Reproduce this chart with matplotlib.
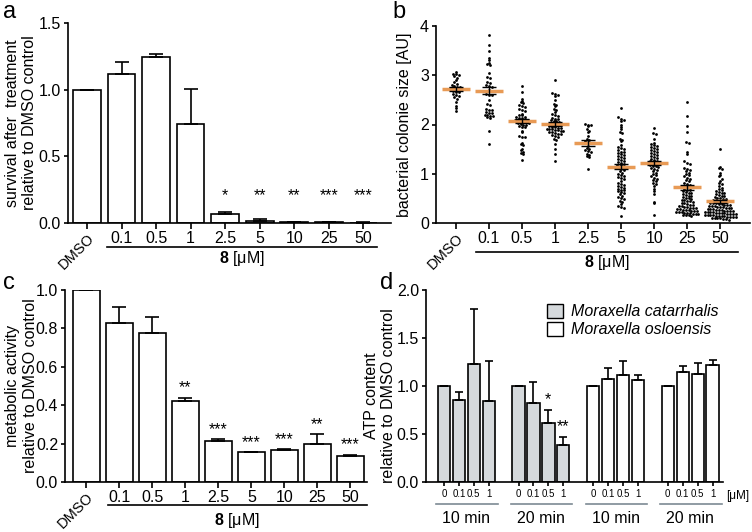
import numpy as np
import matplotlib
matplotlib.use('Agg')
import matplotlib.pyplot as plt
from matplotlib.patches import Patch
import matplotlib.transforms as mtransforms

plt.rcParams['font.family'] = ['Liberation Sans', 'DejaVu Sans']
plt.rcParams['mathtext.fontset'] = 'custom'
plt.rcParams['mathtext.rm'] = 'Liberation Sans'
plt.rcParams['mathtext.bf'] = 'Liberation Sans:bold'

# ---- data ----
conc_labels = ['DMSO', '0.1', '0.5', '1', '2.5', '5', '10', '25', '50']

# a: survival
surv = [1.0, 1.12, 1.245, 0.74, 0.065, 0.018, 0.006, 0.004, 0.003]
surv_err = [0.0, 0.09, 0.025, 0.265, 0.02, 0.012, 0.002, 0.001, 0.001]
surv_stars = ['', '', '', '', '*', '**', '**', '***', '***']

# b: colony size per condition
dmso_b = [3.07, 3.03, 3.02, 3.00, 2.98, 2.95, 2.90, 2.86, 2.82, 2.80, 2.78, 2.77, 2.76, 2.75, 2.74,
          2.72, 2.71, 2.70, 2.68, 2.66, 2.65, 2.62, 2.60, 2.58, 2.56, 2.52, 2.45, 2.38, 2.33, 2.27]
c01_b = [3.82, 3.62, 3.50, 3.36, 3.31, 3.25, 3.23, 3.21, 3.05, 2.96, 2.94, 2.86, 2.84, 2.80, 2.79,
         2.77, 2.70, 2.62, 2.60, 2.59, 2.50, 2.42, 2.40, 2.32, 2.30, 2.29, 2.25, 2.24, 2.23, 2.20,
         2.19, 2.18, 2.17, 2.15, 2.14, 1.86, 1.60]
c05_b = [2.78, 2.66, 2.52, 2.47, 2.45, 2.43, 2.39, 2.38, 2.36, 2.31, 2.30, 2.28, 2.22, 2.20, 2.19,
         2.16, 2.15, 2.14, 2.13, 2.11, 2.10, 2.09, 2.08, 2.06, 2.05, 2.05, 2.04, 2.03, 2.01, 2.00,
         1.99, 1.96, 1.95, 1.94, 1.86, 1.84, 1.76, 1.75, 1.74, 1.62, 1.60, 1.58, 1.50, 1.48, 1.45,
         1.43, 1.41, 1.27]
c1_b = [2.90, 2.63, 2.61, 2.59, 2.57, 2.50, 2.42, 2.40, 2.38, 2.31, 2.29, 2.25, 2.21, 2.20, 2.18,
        2.13, 2.12, 2.11, 2.09, 2.08, 2.07, 2.06, 2.02, 2.01, 2.00, 1.99, 1.98, 1.96, 1.95, 1.94,
        1.93, 1.92, 1.91, 1.90, 1.90, 1.89, 1.88, 1.87, 1.86, 1.85, 1.84, 1.83, 1.81, 1.80, 1.79,
        1.76, 1.74, 1.71, 1.69, 1.60, 1.50, 1.40, 1.25]
c25_b = [2.02, 2.00, 1.98, 1.96, 1.90, 1.86, 1.84, 1.76, 1.71, 1.69, 1.66, 1.65, 1.63, 1.56, 1.52,
         1.50, 1.48, 1.46, 1.44, 1.41, 1.39, 1.36, 1.34, 1.10]
c5_b = [2.33, 2.15, 2.12, 2.10, 2.08, 1.98, 1.95, 1.90, 1.85, 1.82, 1.70, 1.68, 1.66, 1.58, 1.55,
        1.52, 1.50, 1.48, 1.45, 1.44, 1.42, 1.40, 1.38, 1.36, 1.35, 1.32, 1.30, 1.28, 1.26, 1.24,
        1.22, 1.20, 1.18, 1.16, 1.15, 1.14, 1.12, 1.10, 1.08, 1.06, 1.02, 1.00, 0.98, 0.96, 0.94,
        0.92, 0.90, 0.86, 0.82, 0.80, 0.78, 0.76, 0.74, 0.72, 0.70, 0.68, 0.66, 0.64, 0.62, 0.60,
        0.58, 0.55, 0.52, 0.50, 0.48, 0.45, 0.42, 0.38, 0.35, 0.32, 0.30, 0.15]
c10_b = [1.93, 1.82, 1.80, 1.70, 1.62, 1.60, 1.58, 1.56, 1.54, 1.52, 1.50, 1.48, 1.46, 1.44, 1.42,
         1.40, 1.38, 1.36, 1.34, 1.32, 1.30, 1.28, 1.26, 1.25, 1.24, 1.22, 1.20, 1.18, 1.16, 1.15,
         1.14, 1.12, 1.10, 1.08, 1.05, 1.02, 1.00, 0.98, 0.95, 0.92, 0.90, 0.88, 0.85, 0.82, 0.80,
         0.75, 0.70, 0.65, 0.58, 0.42, 0.40, 0.17]
c25x_b = [2.45, 2.18, 1.97, 1.85, 1.65, 1.62, 1.45, 1.40, 1.25, 1.22, 1.20, 1.12, 1.10, 1.08, 1.05,
          1.02, 1.00, 0.98, 0.95, 0.92, 0.90, 0.88, 0.85, 0.82, 0.80, 0.78, 0.76, 0.74, 0.72, 0.70,
          0.68, 0.66, 0.64, 0.62, 0.60, 0.60, 0.58, 0.56, 0.55, 0.54, 0.52, 0.50, 0.50, 0.48, 0.47,
          0.46, 0.45, 0.44, 0.42, 0.40, 0.40, 0.38, 0.37, 0.36, 0.35, 0.34, 0.33, 0.32, 0.31, 0.30,
          0.30, 0.29, 0.28, 0.27, 0.27, 0.26, 0.25, 0.25, 0.24, 0.23, 0.22, 0.22, 0.21, 0.20, 0.20,
          0.19, 0.18, 0.18, 0.17, 0.16, 0.16, 0.15]
c50_b = [1.50, 1.14, 1.12, 1.10, 1.02, 0.98, 0.95, 0.90, 0.85, 0.82, 0.80, 0.75, 0.72, 0.70, 0.66,
         0.64, 0.62, 0.60, 0.60, 0.58, 0.57, 0.55, 0.54, 0.52, 0.50, 0.50, 0.49, 0.48, 0.47, 0.46,
         0.45, 0.44, 0.43, 0.42, 0.41, 0.40, 0.40, 0.39, 0.38, 0.37, 0.36, 0.36, 0.35, 0.34, 0.34,
         0.33, 0.32, 0.32, 0.31, 0.30, 0.30, 0.29, 0.28, 0.28, 0.27, 0.27, 0.26, 0.25, 0.25, 0.24,
         0.24, 0.23, 0.23, 0.22, 0.22, 0.21, 0.21, 0.20, 0.20, 0.19, 0.19, 0.18, 0.18, 0.17, 0.17,
         0.16, 0.16, 0.15, 0.15, 0.14, 0.14, 0.13, 0.13, 0.12, 0.12, 0.11, 0.11, 0.10, 0.10, 0.09,
         0.08, 0.07]
size_groups = [dmso_b, c01_b, c05_b, c1_b, c25_b, c5_b, c10_b, c25x_b, c50_b]
size_mean = [2.72, 2.69, 2.07, 2.01, 1.63, 1.14, 1.21, 0.73, 0.44]
size_sem = [0.04, 0.08, 0.04, 0.04, 0.06, 0.05, 0.04, 0.05, 0.03]

# c: metabolic activity
metab = [1.0, 0.83, 0.775, 0.42, 0.213, 0.155, 0.165, 0.20, 0.133]
metab_err = [0.0, 0.08, 0.085, 0.02, 0.012, 0.002, 0.007, 0.05, 0.01]
metab_stars = ['', '', '', '**', '***', '***', '***', '**', '***']

# d: ATP content
atp_doses = ['0', '0.1', '0.5', '1']
atp_times = ['10 min', '20 min', '10 min', '20 min']
atp_cat_10 = [1.0, 0.85, 1.23, 0.845]
atp_cat_10_err = [0.0, 0.09, 0.57, 0.415]
atp_cat_20 = [1.0, 0.82, 0.61, 0.39]
atp_cat_20_err = [0.0, 0.22, 0.135, 0.075]
atp_osl_10 = [1.0, 1.075, 1.11, 1.06]
atp_osl_10_err = [0.0, 0.11, 0.155, 0.055]
atp_osl_20 = [1.0, 1.145, 1.125, 1.22]
atp_osl_20_err = [0.0, 0.06, 0.115, 0.05]
atp_cat_20_stars = ['', '', '*', '**']

W, H = 752, 532
fig = plt.figure(figsize=(W / 100, H / 100), dpi=100)
FS = 11.5
LW = 1.2


def px_axes(left, top, right, bottom):
    return fig.add_axes([left / W, 1 - bottom / H, (right - left) / W, (bottom - top) / H])


def prism(ax):
    for s in ['top', 'right']:
        ax.spines[s].set_visible(False)
    for s in ['left', 'bottom']:
        ax.spines[s].set_linewidth(LW)
    ax.tick_params(direction='out', width=LW, labelsize=FS)
    ax.tick_params(axis='y', length=3, pad=2)
    ax.tick_params(axis='x', length=4, pad=2)


def conc_axis(ax, line_y, text_y, x0, x1):
    ax.set_xticks(range(len(conc_labels)))
    ax.set_xticklabels(conc_labels)
    lab = ax.get_xticklabels()[0]
    lab.set_rotation(45)
    lab.set_ha('right')
    lab.set_va('top')
    lab.set_rotation_mode('anchor')
    lab.set_fontsize(10.5)
    tr = mtransforms.blended_transform_factory(ax.transData, ax.transAxes)
    ax.plot([x0, x1], [line_y, line_y], color='black', lw=LW, transform=tr, clip_on=False)
    ax.text((x0 + x1) / 2, text_y, r'$\mathbf{8}$ [μM]', transform=tr, ha='center', va='center',
            fontsize=FS)


def swarm_x(vals, center, dy=0.06, dx=0.085):
    vals = np.asarray(vals)
    bins = np.floor(vals / dy).astype(int)
    xs = np.zeros(len(vals))
    for b in np.unique(bins):
        idx = np.where(bins == b)[0]
        k = len(idx)
        xs[idx] = center + (np.arange(k) - (k - 1) / 2) * dx
    return xs


x = np.arange(len(conc_labels))

# ---- panel a ----
ax = px_axes(68, 23, 391, 223)
prism(ax)
ax.bar(x, surv, width=0.8, color='white', edgecolor='black', linewidth=LW)
ax.errorbar(x, surv, yerr=[np.zeros(len(x)), surv_err], fmt='none', ecolor='black',
            elinewidth=LW, capsize=5, capthick=LW)
for xi, s in zip(x, surv_stars):
    ax.text(xi, 0.15, s, ha='center', va='bottom', fontsize=FS)
ax.set_xlim(-0.55, 8.8)
ax.set_ylim(0, 1.5)
ax.set_yticks([0, 0.5, 1.0, 1.5])
ax.set_yticklabels(['0.0', '0.5', '1.0', '1.5'])
ax.set_ylabel('survival after  treatment\nrelative to DMSO control', fontsize=FS)
ax.yaxis.set_label_coords(-0.095, 0.5)
conc_axis(ax, -0.12, -0.18, 0.58, 8.4)

# ---- panel b ----
ax = px_axes(436, 26, 750, 223)
prism(ax)
for i, vals in enumerate(size_groups):
    ax.scatter(swarm_x(vals, i), vals, s=4, color='black', linewidths=0, zorder=2)
    ax.hlines(size_mean[i], i - 0.42, i + 0.42, color='#e89a55', lw=2.5, zorder=3)
    ax.errorbar(i, size_mean[i], yerr=size_sem[i], fmt='none', ecolor='black', elinewidth=1,
                capsize=5, capthick=1, zorder=4)
ax.set_xlim(-0.6, 8.9)
ax.set_ylim(0, 4)
ax.set_yticks([0, 1, 2, 3, 4])
ax.set_ylabel('bacterial colonie size [AU]', fontsize=FS)
ax.yaxis.set_label_coords(-0.075, 0.5)
conc_axis(ax, -0.147, -0.2, 0.6, 8.55)

# ---- panel c ----
ax = px_axes(65, 290, 367, 482)
prism(ax)
ax.bar(x, metab, width=0.8, color='white', edgecolor='black', linewidth=LW)
ax.errorbar(x, metab, yerr=[np.zeros(len(x)), metab_err], fmt='none', ecolor='black',
            elinewidth=LW, capsize=5, capthick=LW)
for xi, v, e, s in zip(x, metab, metab_err, metab_stars):
    ax.text(xi, v + e + 0.01, s, ha='center', va='bottom', fontsize=FS)
ax.set_xlim(-0.65, 8.5)
ax.set_ylim(0, 1.0)
ax.set_yticks([0, 0.2, 0.4, 0.6, 0.8, 1.0])
ax.set_yticklabels(['0.0', '0.2', '0.4', '0.6', '0.8', '1.0'])
ax.set_ylabel('metabolic activity\nrelative to DMSO control', fontsize=FS)
ax.yaxis.set_label_coords(-0.09, 0.5)
conc_axis(ax, -0.122, -0.2, 0.64, 8.5)

# ---- panel d ----
ax = px_axes(426, 290, 723, 482)
prism(ax)
gray = '#d5d9dc'
sets = [(atp_cat_10, atp_cat_10_err, gray), (atp_cat_20, atp_cat_20_err, gray),
        (atp_osl_10, atp_osl_10_err, 'white'), (atp_osl_20, atp_osl_20_err, 'white')]
ticks = []
for g, (vals, errs, col) in enumerate(sets):
    xs = np.arange(4) + 5 * g
    ticks.extend(xs)
    ax.bar(xs, vals, width=0.82, color=col, edgecolor='black', linewidth=LW)
    ax.errorbar(xs, vals, yerr=[np.zeros(4), errs], fmt='none', ecolor='black',
                elinewidth=LW, capsize=3, capthick=LW)
for xi, v, e, s in zip(np.arange(4) + 5, atp_cat_20, atp_cat_20_err, atp_cat_20_stars):
    ax.text(xi, v + e + 0.03, s, ha='center', va='bottom', fontsize=FS)
ax.set_xticks(ticks)
ax.set_xticklabels(atp_doses * 4, fontsize=7)
ax.tick_params(axis='x', length=3, pad=2)
ax.set_xlim(-1.2, 18.7)
ax.set_ylim(0, 2.0)
ax.set_yticks([0, 0.5, 1.0, 1.5, 2.0])
ax.set_yticklabels(['0.0', '0.5', '1.0', '1.5', '2.0'])
ax.set_ylabel('ATP content\nrelative to DMSO control', fontsize=FS)
ax.yaxis.set_label_coords(-0.1, 0.45)
tr = mtransforms.blended_transform_factory(ax.transData, ax.transAxes)
for g, t in enumerate(atp_times):
    s0 = 5 * g
    ax.plot([s0 - 0.5, s0 + 3.6], [-0.115, -0.115], color='#7d8a93', lw=LW, transform=tr,
            clip_on=False)
    ax.text(s0 + 1.5, -0.19, t, transform=tr, ha='center', va='center', fontsize=FS)
ax.text(18.9, -0.075, '[μM]', transform=tr, ha='left', va='center', fontsize=8.5)
handles = [Patch(facecolor=gray, edgecolor='black', lw=1),
           Patch(facecolor='white', edgecolor='black', lw=1)]
leg = ax.legend(handles, ['Moraxella catarrhalis', 'Moraxella osloensis'], loc='upper left',
                bbox_to_anchor=(0.38, 0.97), frameon=False, fontsize=FS, handlelength=1.0,
                handleheight=1.0, labelspacing=0.15, handletextpad=0.5, borderpad=0)
for t in leg.get_texts():
    t.set_style('italic')

# panel letters
fig.text(3 / W, 1 - 1 / H, 'a', fontsize=17, va='top', ha='left')
fig.text(392 / W, 1 - 1 / H, 'b', fontsize=17, va='top', ha='left')
fig.text(3 / W, 1 - 272 / H, 'c', fontsize=17, va='top', ha='left')
fig.text(380 / W, 1 - 272 / H, 'd', fontsize=17, va='top', ha='left')

fig.savefig('out.png', dpi=100)
